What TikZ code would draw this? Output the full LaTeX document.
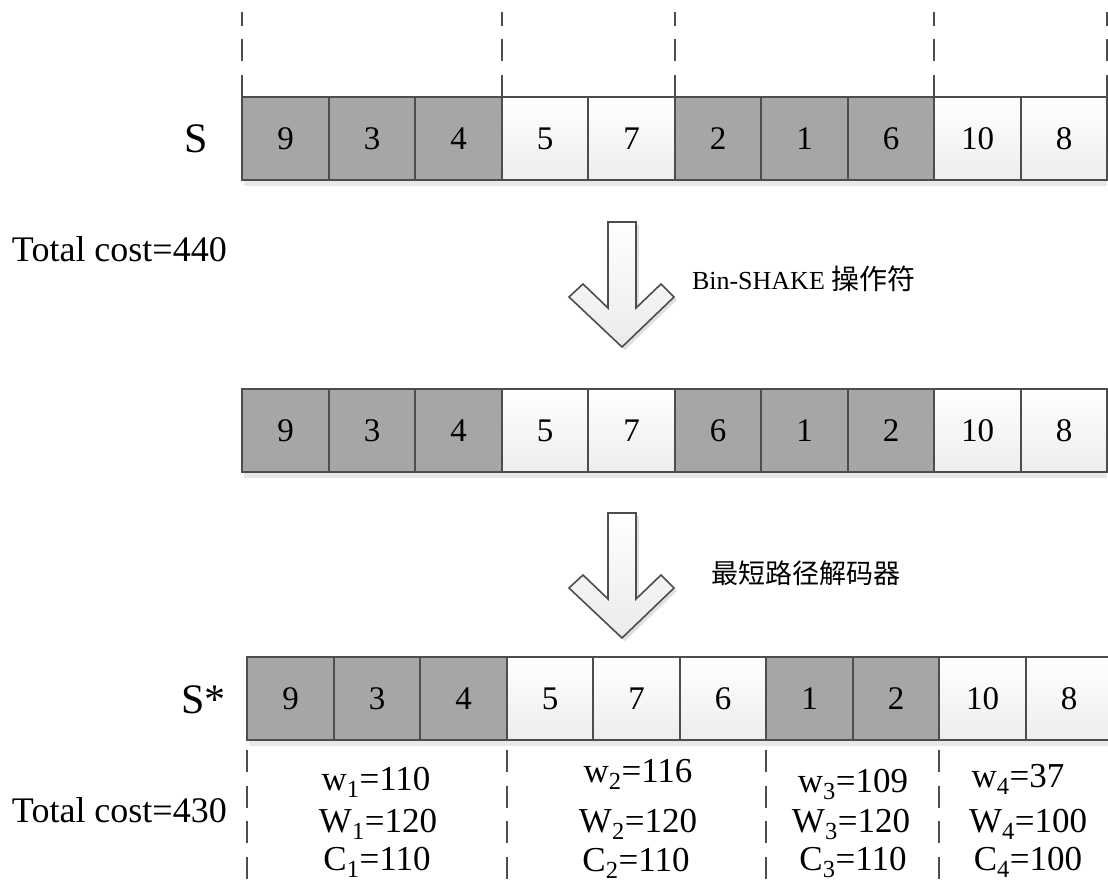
\documentclass[tikz,border=0pt]{standalone}
\usepackage{fontspec}
\setmainfont{Liberation Serif}
\newfontfamily\cjk{Noto Sans CJK SC}
\usetikzlibrary{shadows}
\definecolor{cellgray}{HTML}{A6A6A6}
\definecolor{edgec}{HTML}{4D4D4D}
\tikzset{
  cellbox/.style={minimum width=86pt, minimum height=83pt,
    inner sep=0pt, outer sep=0pt, anchor=north west, font=\fontsize{33}{33}\selectfont},
  wide/.style={minimum width=87pt},
  dk/.style={cellbox, fill=cellgray},
  lt/.style={cellbox, top color=white, bottom color=black!7},
  celledge/.style={draw=edgec, line width=2pt},
  rowshadow/.style={fill=black!9},
  dashln/.style={draw=edgec, line width=2.6pt, dash pattern=on 22pt off 13.5pt},
  blockarrow/.style={draw=edgec, line width=1.6pt, top color=white, bottom color=black!8,
    line join=miter, drop shadow={shadow xshift=3pt, shadow yshift=-3pt, fill=black, opacity=0.12}},
  lbl/.style={inner sep=0pt, outer sep=0pt},
  big/.style={lbl, font=\fontsize{42}{42}\selectfont},
  mid/.style={lbl, font=\fontsize{35}{35}\selectfont},
}
\begin{document}
\begin{tikzpicture}[x=1pt,y=-1pt]
\useasboundingbox (0,0) rectangle (1108,882);
\clip (0,0) rectangle (1108,882);

% row shadows
\fill[rowshadow] (244,180) rectangle (1107,186);
\fill[rowshadow] (244,472) rectangle (1107,478);
\fill[rowshadow] (249,740) rectangle (1112,746);

% top row S
\node[dk,wide] (a1)  at (242,97) {9};
\node[dk]      (a2)  at (329,97) {3};
\node[dk,wide] (a3)  at (415,97) {4};
\node[lt]      (a4)  at (502,97) {5};
\node[lt,wide] (a5)  at (588,97) {7};
\node[dk]      (a6)  at (675,97) {2};
\node[dk,wide] (a7)  at (761,97) {1};
\node[dk]      (a8)  at (848,97) {6};
\node[lt,wide] (a9)  at (934,97) {10};
\node[lt]      (a10) at (1021,97) {8};

% middle row
\node[dk,wide] (b1)  at (242,389) {9};
\node[dk]      (b2)  at (329,389) {3};
\node[dk,wide] (b3)  at (415,389) {4};
\node[lt]      (b4)  at (502,389) {5};
\node[lt,wide] (b5)  at (588,389) {7};
\node[dk]      (b6)  at (675,389) {6};
\node[dk,wide] (b7)  at (761,389) {1};
\node[dk]      (b8)  at (848,389) {2};
\node[lt,wide] (b9)  at (934,389) {10};
\node[lt]      (b10) at (1021,389) {8};

% bottom row S*
\node[dk,wide] (c1)  at (247,657) {9};
\node[dk]      (c2)  at (334,657) {3};
\node[dk,wide] (c3)  at (420,657) {4};
\node[lt]      (c4)  at (507,657) {5};
\node[lt,wide] (c5)  at (593,657) {7};
\node[lt]      (c6)  at (680,657) {6};
\node[dk,wide] (c7)  at (766,657) {1};
\node[dk]      (c8)  at (853,657) {2};
\node[lt,wide] (c9)  at (939,657) {10};
\node[lt]      (c10) at (1026,657) {8};

% cell borders (drawn after all fills so shared edges keep full width)
\foreach \r in {a,b,c}{
  \foreach \i in {1,...,10}{
    \draw[celledge] (\r\i.north west) rectangle (\r\i.south east);
  }
}

% top dashed separators
\draw[dashln] (a1.north west) -- ++(0,-85);
\draw[dashln] (a4.north west) -- ++(0,-85);
\draw[dashln] (a6.north west) -- ++(0,-85);
\draw[dashln] (a9.north west) -- ++(0,-85);
\draw[dashln] (a10.north east) -- ++(0,-85);

% bottom dashed separators
\draw[dashln] ([yshift=-10pt]c1.south west) -- ++(0,135);
\draw[dashln] ([yshift=-10pt]c4.south west) -- ++(0,135);
\draw[dashln] ([yshift=-10pt]c7.south west) -- ++(0,135);
\draw[dashln] ([yshift=-10pt]c9.south west) -- ++(0,135);

% block arrows
\path[blockarrow] (608,222) -- (636,222) -- (636,308) -- (661,284) -- (674,297)
  -- (622,347) -- (569,297) -- (583,284) -- (608,308) -- cycle;
\begin{scope}[yshift=-291pt]
\path[blockarrow] (608,222) -- (636,222) -- (636,308) -- (661,284) -- (674,297)
  -- (622,347) -- (569,297) -- (583,284) -- (608,308) -- cycle;
\end{scope}

% arrow labels
\node[lbl, anchor=base west] (op1) at (692,290)
  {\fontsize{26}{26}\selectfont Bin-SHAKE {\cjk\fontsize{28}{28}\selectfont 操作符}};
\node[lbl, anchor=west] (op2) at (711,573) {\cjk\fontsize{27}{27}\selectfont 最短路径解码器};

% row labels
\node[big, anchor=base] (lS) at (196,153) {S};
\node[big, anchor=base east] (lSs) at (226,713) {S*};
\node[mid, anchor=base west, font=\fontsize{36}{36}\selectfont] (tc1) at (12,262) {Total cost=440};
\node[mid, anchor=base west, font=\fontsize{36}{36}\selectfont] (tc2) at (12,822) {Total cost=430};

% bin values
\node[mid, anchor=base] (w1) at (376,790) {w\textsubscript{1}=110};
\node[mid, anchor=base] (W1) at (378,832) {W\textsubscript{1}=120};
\node[mid, anchor=base] (C1) at (377,870) {C\textsubscript{1}=110};
\node[mid, anchor=base] (w2) at (638,782) {w\textsubscript{2}=116};
\node[mid, anchor=base] (W2) at (638,832) {W\textsubscript{2}=120};
\node[mid, anchor=base] (C2) at (636,871) {C\textsubscript{2}=110};
\node[mid, anchor=base] (w3) at (853,792) {w\textsubscript{3}=109};
\node[mid, anchor=base] (W3) at (851,832) {W\textsubscript{3}=120};
\node[mid, anchor=base] (C3) at (853,870) {C\textsubscript{3}=110};
\node[mid, anchor=base] (w4) at (1018,787) {w\textsubscript{4}=37};
\node[mid, anchor=base] (W4) at (1028,832) {W\textsubscript{4}=100};
\node[mid, anchor=base] (C4) at (1028,870) {C\textsubscript{4}=100};
\end{tikzpicture}
\end{document}
